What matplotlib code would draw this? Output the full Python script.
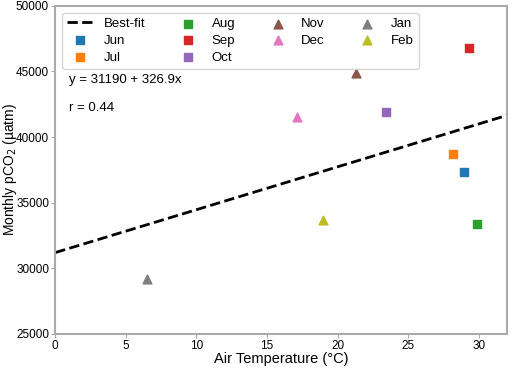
import matplotlib.pyplot as plt
import numpy as np

plt.rcParams['font.family'] = ['Liberation Sans', 'DejaVu Sans']

months = ['Jun', 'Jul', 'Aug', 'Sep', 'Oct', 'Nov', 'Dec', 'Jan', 'Feb']
air_temp = [28.95, 28.2, 29.85, 29.35, 23.4, 21.3, 17.1, 6.5, 19.0]
pco2 = [37300, 38700, 33400, 46800, 41900, 44900, 41500, 29200, 33700]
markers = ['s', 's', 's', 's', 's', '^', '^', '^', '^']
colors = ['tab:blue', 'tab:orange', 'tab:green', 'tab:red', 'tab:purple',
          'tab:brown', 'tab:pink', 'tab:gray', 'tab:olive']

intercept = 31190
slope = 326.9

fig, ax = plt.subplots(figsize=(5.12, 3.7), dpi=100)
fig.subplots_adjust(left=0.108, right=0.99, top=0.984, bottom=0.098)

xfit = np.array([0, 32])
ax.plot(xfit, intercept + slope * xfit, 'k--', lw=2, label='Best-fit')

for m, x, y, mk, c in zip(months, air_temp, pco2, markers, colors):
    ax.scatter(x, y, marker=mk, color=c, s=40, label=m, zorder=3)

ax.set_xlim(0, 32)
ax.set_ylim(25000, 50000)
ax.set_xticks([0, 5, 10, 15, 20, 25, 30])
ax.set_yticks([25000, 30000, 35000, 40000, 45000, 50000])
ax.tick_params(labelsize=8.5, color='#aaaaaa', length=3, pad=1.5)
for s in ax.spines.values():
    s.set_color('#aaaaaa')
    s.set_linewidth(1.5)

ax.set_xlabel('Air Temperature (°C)', fontsize=10.5, labelpad=0)
ax.set_ylabel('Monthly pCO$_2$ (µatm)', fontsize=10)
ax.yaxis.set_label_coords(-0.081, 0.5)

ax.text(0.03, 0.774, 'y = 31190 + 326.9x', transform=ax.transAxes,
        fontsize=9.5, va='center')
ax.text(0.03, 0.689, 'r = 0.44', transform=ax.transAxes,
        fontsize=9.5, va='center')

ax.legend(ncol=4, loc='upper left', fontsize=9.5, handlelength=2,
          columnspacing=2.2, borderaxespad=0.5, labelspacing=0.35)

plt.savefig('out.png')
